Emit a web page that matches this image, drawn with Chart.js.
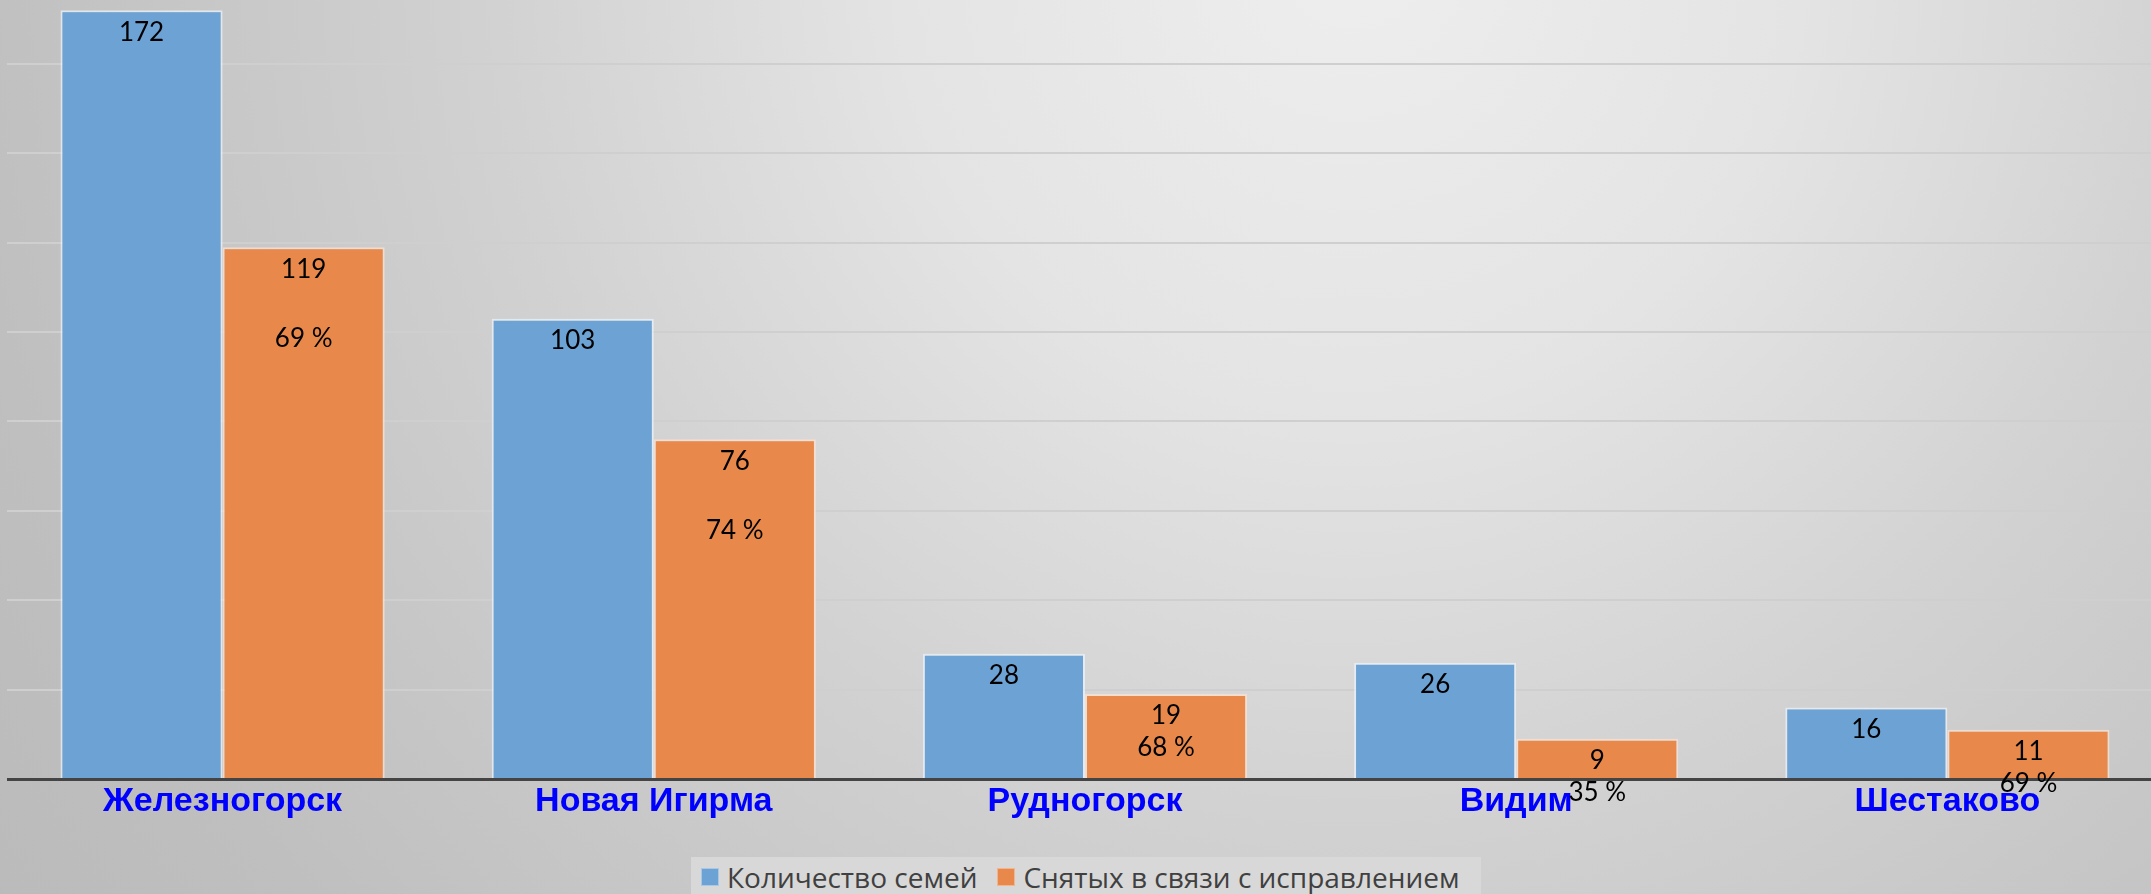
<!DOCTYPE html>
<html lang="ru">
<head>
<meta charset="utf-8">
<script src="https://cdn.jsdelivr.net/npm/chart.js@4/dist/chart.umd.min.js"></script>
<style>
  html, body { margin: 0; padding: 0; width: 2151px; height: 894px; overflow: hidden; }
  body {
    position: relative;
    background: radial-gradient(circle 1800px at 1350px -40px,
      #eeeeee 0px, #e4e4e4 450px, #d2d2d2 850px, #c7c7c7 1150px, #bfbfbf 1400px, #b8b8b8 1800px);
  }
  #wrap { position: absolute; left: 7px; top: 0; width: 2156px; height: 894px; }
  #legend {
    position: absolute; left: 691px; top: 857px; width: 790px; height: 45px;
    background: #d8d8d8; display: flex; align-items: flex-start;
    font-family: "Open Sans", sans-serif; font-size: 28px; color: #404040;
    box-sizing: border-box; padding-left: 10px; padding-top: 2px; white-space: nowrap;
  }
  .item { display: flex; align-items: center; margin-right: 20px; line-height: 36px; }
  .sw { width: 18px; height: 18px; margin-right: 8px; box-sizing: border-box; }
</style>
</head>
<body>
<div id="wrap"><canvas id="c"></canvas></div>
<div id="legend"></div>
<script>
const categories = ["Железногорск", "Новая Игирма", "Рудногорск", "Видим", "Шестаково"];
const seriesNames = ["Количество семей", "Снятых в связи с исправлением"];
const families = [172, 103, 28, 26, 16];
const removed = [119, 76, 19, 9, 11];
const gridTicks = [0, 20, 40, 60, 80, 100, 120, 140, 160];

const BLUE = "#6ca2d4";
const ORANGE = "#e8894b";

// legend (real text)
const legend = document.getElementById("legend");
[[seriesNames[0], BLUE, "#a9c8e6"], [seriesNames[1], ORANGE, "#f3b58e"]].forEach(([t, c, b]) => {
  const it = document.createElement("div"); it.className = "item";
  const sw = document.createElement("div"); sw.className = "sw";
  sw.style.background = c; sw.style.border = "1px solid " + b;
  const tx = document.createElement("span"); tx.textContent = t;
  it.appendChild(sw); it.appendChild(tx); legend.appendChild(it);
});

const labelPlugin = {
  id: "barLabels",
  afterDatasetsDraw(chart) {
    const ctx = chart.ctx;
    ctx.save();
    ctx.font = "26px Lato, sans-serif";
    ctx.fillStyle = "#000";
    ctx.textAlign = "center";
    ctx.textBaseline = "middle";
    const base = chart.scales.y.getPixelForValue(0);
    chart.data.datasets.forEach((ds, di) => {
      chart.getDatasetMeta(di).data.forEach((bar, i) => {
        const y = bar.y + 22;
        ctx.fillText(String(ds.data[i]), bar.x, y);
        if (di === 1) {
          const pct = Math.round(removed[i] / families[i] * 100) + " %";
          const h = base - bar.y;
          ctx.fillText(pct, bar.x, y + (h > 150 ? 69 : 32));
        }
      });
    });
    ctx.restore();
  }
};

new Chart(document.getElementById("c"), {
  type: "bar",
  data: {
    labels: categories,
    datasets: [
      { label: seriesNames[0], data: families, backgroundColor: BLUE,
        borderColor: "rgba(235,242,250,0.75)", borderWidth: 2 },
      { label: seriesNames[1], data: removed, backgroundColor: ORANGE,
        borderColor: "rgba(252,226,208,0.75)", borderWidth: 2 }
    ]
  },
  options: {
    responsive: true,
    maintainAspectRatio: false,
    animation: false,
    events: [],
    layout: { padding: 0 },
    datasets: { bar: { categoryPercentage: 0.752, barPercentage: 1.0 } },
    plugins: { legend: { display: false }, tooltip: { enabled: false } },
    scales: {
      x: {
        grid: { display: false, drawTicks: false },
        border: { display: true, color: "#444444", width: 3 },
        ticks: { color: "#0000ff", padding: 2,
          font: { family: "'Liberation Sans', Arial, sans-serif", weight: "bold", size: 34 } },
        afterFit(scale) { scale.height = 115; }
      },
      y: {
        min: 0, max: 174.3,
        afterBuildTicks(scale) { scale.ticks = gridTicks.map(v => ({ value: v })); },
        ticks: { display: false },
        grid: { color: "#cfcfcf", lineWidth: 2, drawTicks: false },
        border: { display: false },
        afterFit(scale) { scale.width = 0; }
      }
    }
  },
  plugins: [labelPlugin]
});
</script>
</body>
</html>
